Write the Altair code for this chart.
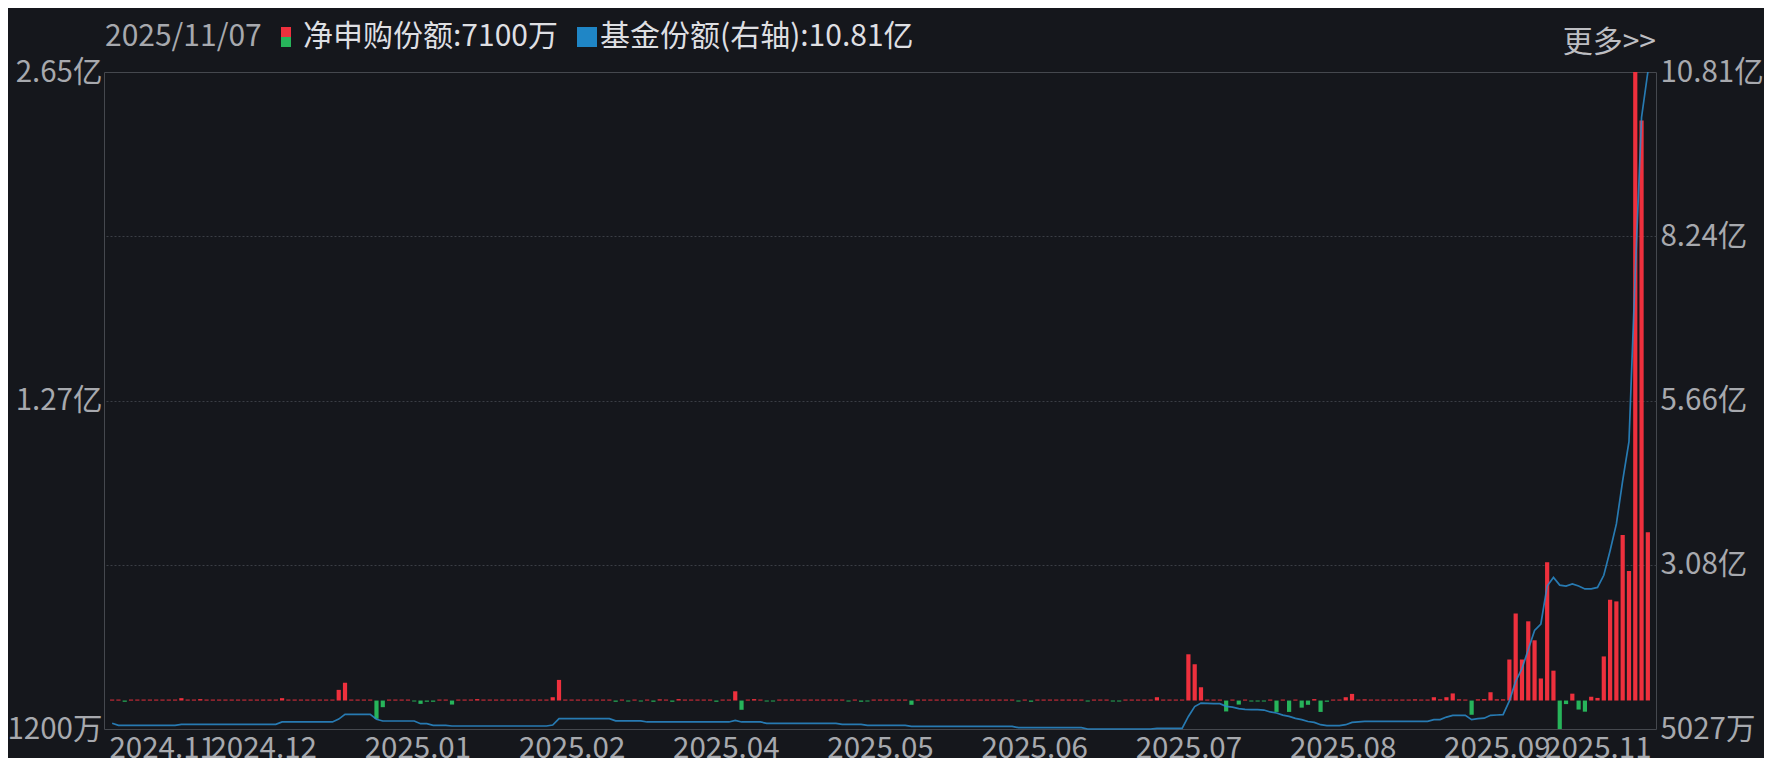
import altair as alt
import pandas as pd

# ---------------- data (values in 亿) ----------------
x_labels = ['2024.11', '2024.12', '2025.01', '2025.02', '2025.04', '2025.05',
            '2025.06', '2025.07', '2025.08', '2025.09', '2025.11']
left_labels = ['-1200万', '1.27亿', '2.65亿']
right_labels = ['5027万', '3.08亿', '5.66亿', '8.24亿', '10.81亿']

# 净申购份额 (亿份), one value per trading day
net_yi = [
    0.004, 0.004, -0.005, 0.004, 0.004, 0.004, 0.004, 0.004, 0.004, 0.004, 0.004, 0.010, 0.004, 0.004, 0.006,
    0.004, 0.004, 0.004, 0.004, 0.004, 0.004, 0.004, 0.004, 0.004, 0.004, 0.004, 0.004, 0.010, 0.004, 0.004,
    0.004, 0.004, 0.004, 0.004, 0.004, 0.004, 0.045, 0.075, 0.004, 0.004, 0.004, 0.004, -0.077, -0.028, 0.004,
    0.004, 0.004, 0.004, -0.004, -0.014, -0.005, -0.005, 0.004, 0.004, -0.017, 0.004, 0.004, 0.004, 0.006, 0.004,
    0.004, 0.004, 0.004, 0.004, 0.004, 0.004, 0.004, 0.004, 0.004, 0.004, 0.014, 0.087, 0.004, 0.004, 0.004,
    0.004, 0.004, 0.004, 0.004, 0.004, -0.005, 0.004, -0.004, 0.004, -0.004, 0.004, -0.005, 0.005, 0.004, -0.005,
    0.006, 0.004, 0.004, 0.004, 0.004, 0.004, -0.005, 0.004, 0.004, 0.039, -0.039, 0.004, 0.006, 0.004, -0.004,
    -0.004, 0.004, 0.004, 0.004, 0.004, 0.004, 0.004, 0.004, 0.004, 0.004, 0.004, 0.004, -0.004, 0.004, -0.005,
    -0.004, 0.004, 0.004, 0.004, 0.004, 0.004, 0.004, -0.018, 0.004, 0.004, 0.004, 0.004, 0.004, 0.004, 0.004,
    0.004, 0.004, 0.004, 0.004, 0.004, 0.004, 0.004, 0.004, 0.004, -0.004, 0.004, -0.005, 0.004, 0.004, 0.004,
    0.004, 0.004, 0.004, 0.004, 0.004, -0.004, 0.004, 0.004, 0.004, -0.004, -0.004, 0.004, 0.004, 0.004, 0.004,
    0.004, 0.014, 0.004, 0.004, 0.004, 0.004, 0.195, 0.153, 0.056, 0.004, 0.004, 0.004, -0.046, 0.004, -0.017,
    0.004, -0.004, -0.004, -0.004, 0.004, -0.048, 0.004, -0.048, 0.004, -0.030, -0.018, 0.006, -0.048, -0.005, 0.004,
    0.004, 0.014, 0.028, 0.004, 0.005, 0.004, 0.004, 0.004, 0.004, 0.004, 0.004, 0.004, 0.005, 0.004, 0.004,
    0.014, 0.005, 0.014, 0.030, 0.005, 0.004, -0.060, 0.005, 0.006, 0.035, 0.005, 0.005, 0.173, 0.367, 0.173,
    0.334, 0.254, 0.093, 0.583, 0.126, -0.120, -0.015, 0.029, -0.038, -0.047, 0.016, 0.011, 0.186, 0.425, 0.418,
    0.698, 0.546, 2.650, 2.445, 0.710,
]

# 基金份额 (亿份), right axis
share_yi = [
    0.592, 0.560, 0.560, 0.560, 0.560, 0.560, 0.560, 0.560, 0.560, 0.560, 0.560, 0.576, 0.576, 0.576, 0.576,
    0.576, 0.576, 0.576, 0.576, 0.576, 0.576, 0.576, 0.576, 0.576, 0.576, 0.576, 0.576, 0.613, 0.613, 0.613,
    0.613, 0.613, 0.613, 0.613, 0.613, 0.613, 0.658, 0.733, 0.733, 0.733, 0.733, 0.733, 0.656, 0.628, 0.628,
    0.628, 0.628, 0.628, 0.628, 0.586, 0.586, 0.560, 0.560, 0.560, 0.550, 0.550, 0.550, 0.550, 0.550, 0.550,
    0.550, 0.550, 0.550, 0.550, 0.550, 0.550, 0.550, 0.550, 0.550, 0.550, 0.565, 0.665, 0.665, 0.665, 0.665,
    0.665, 0.665, 0.665, 0.665, 0.665, 0.630, 0.630, 0.630, 0.630, 0.630, 0.613, 0.613, 0.613, 0.613, 0.613,
    0.613, 0.613, 0.613, 0.613, 0.613, 0.613, 0.613, 0.613, 0.613, 0.639, 0.613, 0.613, 0.613, 0.613, 0.592,
    0.592, 0.592, 0.592, 0.592, 0.592, 0.592, 0.592, 0.592, 0.592, 0.592, 0.592, 0.576, 0.576, 0.576, 0.576,
    0.560, 0.560, 0.560, 0.560, 0.560, 0.560, 0.560, 0.545, 0.545, 0.545, 0.545, 0.545, 0.545, 0.545, 0.545,
    0.545, 0.545, 0.545, 0.545, 0.545, 0.545, 0.545, 0.545, 0.545, 0.524, 0.524, 0.524, 0.524, 0.524, 0.524,
    0.524, 0.524, 0.524, 0.524, 0.524, 0.5027, 0.5027, 0.5027, 0.5027, 0.5027, 0.5027, 0.5027, 0.5027, 0.5027, 0.5027,
    0.5027, 0.513, 0.513, 0.513, 0.513, 0.513, 0.700, 0.855, 0.910, 0.905, 0.900, 0.900, 0.858, 0.845, 0.822,
    0.810, 0.806, 0.806, 0.800, 0.770, 0.754, 0.720, 0.700, 0.670, 0.650, 0.620, 0.607, 0.570, 0.555, 0.555,
    0.555, 0.570, 0.607, 0.615, 0.623, 0.623, 0.623, 0.623, 0.623, 0.623, 0.623, 0.623, 0.623, 0.623, 0.623,
    0.650, 0.650, 0.690, 0.717, 0.717, 0.717, 0.650, 0.665, 0.672, 0.717, 0.722, 0.727, 0.944, 1.250, 1.450,
    1.750, 2.050, 2.150, 2.745, 2.880, 2.760, 2.745, 2.780, 2.745, 2.700, 2.700, 2.724, 2.914, 3.300, 3.720,
    4.400, 5.010, 7.660, 10.100, 10.810,
]

header_date = '2025/11/07'
header_net = '净申购份额:7100万'
header_share = '基金份额(右轴):10.81亿'
more_text = '更多>>'

# ---------------- styling ----------------
N = len(net_yi)
FONT = 'Noto Sans CJK SC'
BG = '#15171c'
RED = '#ee303d'
GREEN = '#27b45a'
BLUE = '#2a8ccc'
LABEL = '#a7a9ae'
BRIGHT = '#dedfe2'
BORDER = '#45484e'
GRID = '#3b3e45'
FS_AX = 29.5
FS_HD = 30

W, H = 1552, 657
L_MIN, L_MAX = -0.12, 2.65
R_MIN, R_MAX = 0.5027, 10.81

df = pd.DataFrame({'i': list(range(N)), 'net': net_yi, 'share': share_yi})

x_ticks = [k * N / 10 - 0.5 for k in range(11)]
x_expr = '[' + ','.join("'%s'" % s for s in x_labels) + '][round((datum.value + 0.5) / %f)]' % (N / 10)
l_ticks = [L_MIN + k * (L_MAX - L_MIN) / 2 for k in range(3)]
l_expr = '[' + ','.join("'%s'" % s for s in left_labels) + '][round((datum.value - (%f)) / %f)]' % (L_MIN, (L_MAX - L_MIN) / 2)
r_ticks = [R_MIN + k * (R_MAX - R_MIN) / 4 for k in range(5)]
r_expr = '[' + ','.join("'%s'" % s for s in right_labels) + '][round((datum.value - %f) / %f)]' % (R_MIN, (R_MAX - R_MIN) / 4)

x_align = {
    'condition': [
        {'test': 'datum.value < 0', 'value': 'left'},
        {'test': 'datum.value > %f' % (N - 1), 'value': 'right'},
    ],
    'value': 'center',
}

x_enc = alt.X('i:Q',
              scale=alt.Scale(domain=[-0.5, N - 0.5], nice=False, zero=False),
              axis=alt.Axis(values=x_ticks, labelExpr=x_expr, labelAlign=x_align, labelOverlap=False,
                            ticks=False, domain=False, grid=False, title=None,
                            labelColor=LABEL, labelFont=FONT, labelFontSize=FS_AX, labelPadding=5,
                            labelBound=False))

base = alt.Chart(df)

bars = base.mark_bar(size=4.2).encode(
    x=x_enc,
    y=alt.Y('net:Q', scale=alt.Scale(domain=[L_MIN, L_MAX], nice=False, zero=False),
            axis=alt.Axis(orient='left', values=l_ticks, labelExpr=l_expr, ticks=False, domain=False,
                          grid=False, title=None, labelColor=LABEL, labelFont=FONT, labelFontSize=FS_AX,
                          labelPadding=2, labelBound=False, labelFlush=False)),
    y2=alt.datum(0),
    color=alt.condition('datum.net >= 0', alt.value(RED), alt.value(GREEN)),
)

line = base.mark_line(strokeWidth=1.7, color=BLUE, opacity=0.85).encode(
    x=x_enc,
    y=alt.Y('share:Q', scale=alt.Scale(domain=[R_MIN, R_MAX], nice=False, zero=False),
            axis=alt.Axis(orient='right', values=r_ticks, labelExpr=r_expr, ticks=False, domain=False,
                          grid=True, gridColor=GRID, gridDash=[2, 2], gridWidth=1,
                          gridOpacity=alt.ConditionalAxisNumber(
                              condition={'test': 'datum.value < %f || datum.value > %f' % (R_MIN + 0.1, R_MAX - 0.1), 'value': 0},
                              value=1),
                          title=None, labelColor=LABEL, labelFont=FONT, labelFontSize=FS_AX,
                          labelPadding=4, labelBound=False, labelFlush=False)),
)

ann = alt.Chart(alt.Data(values=[{'k': 1}]))

def txt(s, x, y, color, align='left'):
    return ann.mark_text(text=s, align=align, baseline='middle', font=FONT, fontSize=FS_HD, color=color).encode(
        x=alt.value(x), y=alt.value(y))

def box(x1, x2, y1, y2, color):
    return ann.mark_rect(color=color).encode(x=alt.value(x1), x2=alt.value(x2), y=alt.value(y1), y2=alt.value(y2))

layers = [
    bars, line,
    txt(header_date, 1, -35, LABEL),
    box(177, 187, -45, -35, RED),
    box(177, 187, -35, -25, GREEN),
    txt(header_net, 199, -35, BRIGHT),
    box(473, 493, -45, -25, '#1f86c6'),
    txt(header_share, 496, -35, BRIGHT),
    txt(more_text, W, -29, '#bdbec2', align='right'),
]

chart = alt.layer(*layers).resolve_scale(y='independent').properties(
    width=W, height=H,
    padding={'left': 96, 'top': 64, 'right': 108, 'bottom': 29},
    autosize=alt.AutoSizeParams(type='none'),
    background=BG,
).configure_view(stroke=BORDER, strokeWidth=1)

chart.save('out.html', embed_options={'renderer': 'svg', 'actions': False})
